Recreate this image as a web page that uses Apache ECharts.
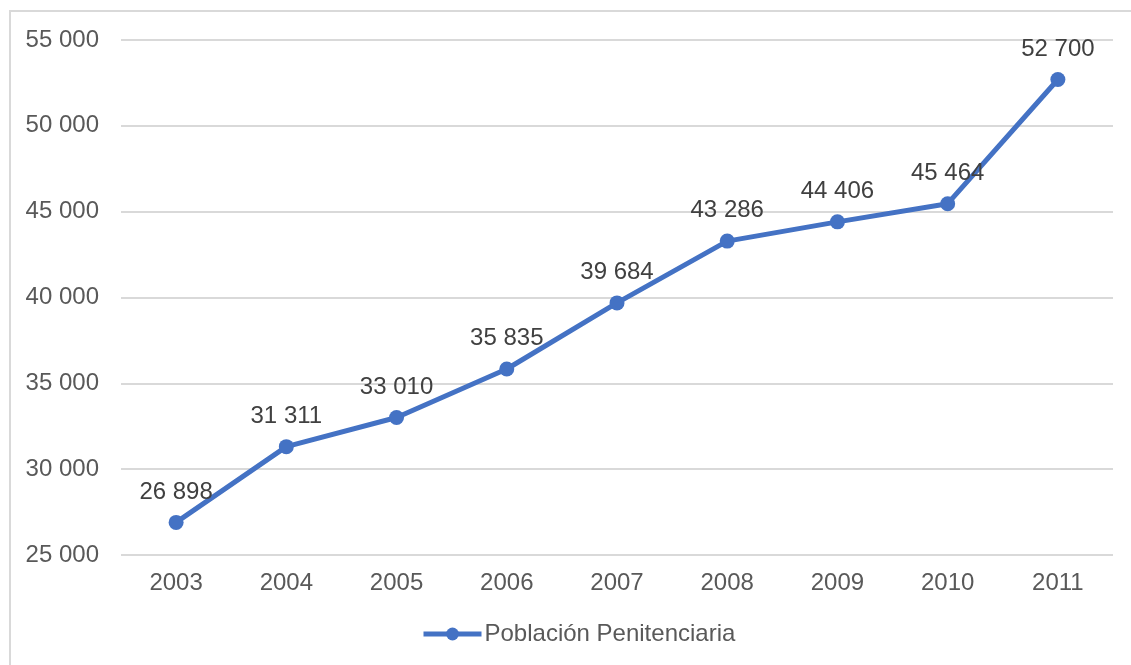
<!DOCTYPE html>
<html lang="es">
<head>
<meta charset="UTF-8">
<title>Población Penitenciaria</title>
<script src="https://cdn.jsdelivr.net/npm/echarts@6/dist/echarts.min.js"></script>
<style>
  html, body { margin: 0; padding: 0; background: #fff; }
  #frame { position: absolute; left: 9px; top: 10px; width: 1140px; height: 670px;
           border-left: 2px solid #d9d9d9; border-top: 2px solid #d9d9d9; }
  #chart { position: absolute; left: 0; top: 0; width: 1131px; height: 665px; }
</style>
</head>
<body>
<div id="frame"></div>
<div id="chart"></div>
<script>
var years = ['2003', '2004', '2005', '2006', '2007', '2008', '2009', '2010', '2011'];
var poblacion = [26898, 31311, 33010, 35835, 39684, 43286, 44406, 45464, 52700];
var seriesName = 'Población Penitenciaria';

function fmt(v) {
    return String(v).replace(/\B(?=(\d{3})+(?!\d))/g, ' ');
}

var myChart = echarts.init(document.getElementById('chart'));
var option = {
    animation: false,
    textStyle: { fontFamily: 'Liberation Sans, Arial, sans-serif' },
    grid: { left: 121, top: 40, width: 992, height: 515 },
    legend: {
        bottom: 14,
        left: 416,
        itemWidth: 58,
        itemHeight: 16,
        itemGap: 4,
        lineStyle: { width: 5 },
        textStyle: { fontSize: 24, color: '#595959', padding: [0, 0, 0, -2] },
        data: [seriesName]
    },
    xAxis: {
        type: 'category',
        data: years,
        boundaryGap: true,
        axisLine: { show: false },
        axisTick: { show: false },
        axisLabel: { fontSize: 24, color: '#595959', margin: 16 }
    },
    yAxis: {
        type: 'value',
        min: 25000,
        max: 55000,
        interval: 5000,
        axisLine: { show: false },
        axisTick: { show: false },
        splitLine: { lineStyle: { color: '#d9d9d9', width: 2 } },
        axisLabel: { fontSize: 24, color: '#595959', margin: 22, formatter: fmt }
    },
    series: [{
        name: seriesName,
        type: 'line',
        data: poblacion,
        color: '#4472C4',
        lineStyle: { width: 5, color: '#4472C4' },
        symbol: 'circle',
        symbolSize: 15,
        itemStyle: { color: '#4472C4' },
        label: {
            show: true,
            position: 'top',
            distance: 11,
            fontSize: 24,
            color: '#404040',
            formatter: function (p) { return fmt(p.value); }
        }
    }]
};
myChart.setOption(option);
</script>
</body>
</html>
